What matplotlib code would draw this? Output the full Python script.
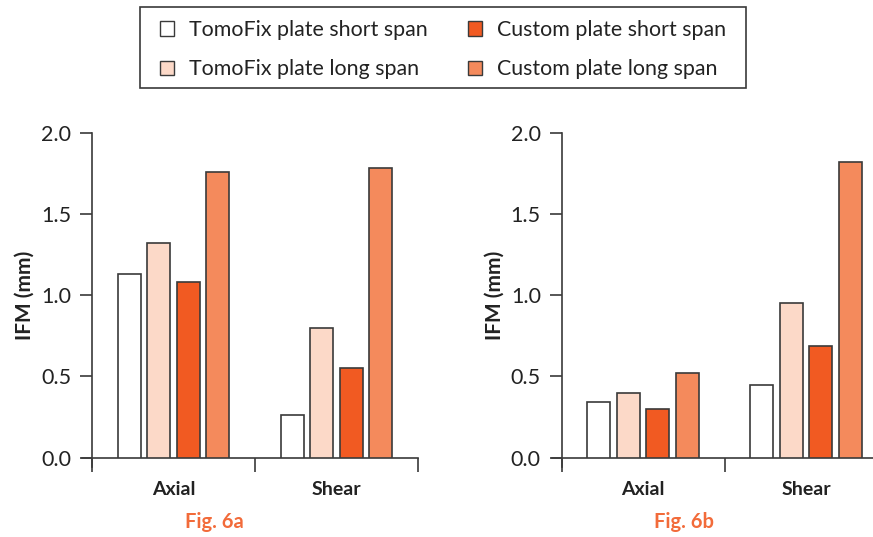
import numpy as np
import matplotlib.pyplot as plt
from matplotlib.patches import Patch, Rectangle

plt.rcParams['font.family'] = ['Lato', 'DejaVu Sans']

# Datos de IFM (mm) por tipo de carga
categorias = ["Axial", "Shear"]
series = ["TomoFix plate short span", "TomoFix plate long span",
          "Custom plate short span", "Custom plate long span"]
fig6a = [[1.13, 0.26], [1.32, 0.80], [1.08, 0.55], [1.76, 1.78]]
fig6b = [[0.34, 0.45], [0.40, 0.95], [0.30, 0.69], [0.52, 1.82]]
colores = ["#ffffff", "#fcd9c8", "#f15a22", "#f48a5c"]
titulos = ["Fig. 6a", "Fig. 6b"]

gris = "#3a3a3a"
texto = "#222222"
naranja = "#f26b3a"

fig = plt.figure(figsize=(8.73, 5.37), dpi=100)
ax_a = fig.add_axes([0.1054, 0.1477, 0.3734, 0.6052])
ax_b = fig.add_axes([0.6434, 0.1477, 0.3734, 0.6052])

paso = 0.181
ancho = 0.141
x = np.arange(len(categorias)) + 0.5

for ax, datos, titulo in zip([ax_a, ax_b], [fig6a, fig6b], titulos):
    for i, (valores, c) in enumerate(zip(datos, colores)):
        ax.bar(x + (i - 1.5) * paso, valores, width=ancho, color=c,
               edgecolor=gris, linewidth=1.2, zorder=3)
    ax.set_xlim(0, 2)
    ax.set_ylim(0, 2)
    ax.set_yticks([0, 0.5, 1.0, 1.5, 2.0])
    ax.set_yticklabels(["0.0", "0.5", "1.0", "1.5", "2.0"])
    ax.set_xticks(x)
    ax.set_xticklabels(categorias, fontweight='bold', fontsize=14)
    ax.set_xticks([0, 1, 2], minor=True)
    ax.tick_params(axis='x', which='major', length=0, pad=17, colors=texto)
    ax.tick_params(axis='x', which='minor', length=10, width=1.2, direction='out', color=gris)
    ax.tick_params(axis='y', length=9, width=1.2, pad=6, labelsize=15.5,
                   color=gris, labelcolor=texto)
    for s in ['top', 'right']:
        ax.spines[s].set_visible(False)
    for s in ['left', 'bottom']:
        ax.spines[s].set_color(gris)
        ax.spines[s].set_linewidth(1.2)
    ax.spines['left'].set_bounds(-0.06, 2)
    ax.spines['bottom'].set_bounds(-0.06, 2)
    ax.set_ylabel("IFM (mm)", fontweight='bold', fontsize=15, color=texto)
    ax.yaxis.set_label_coords(-0.176, 0.5)
    ax.text(0.375, -0.198, titulo, transform=ax.transAxes, ha='center', va='center',
            fontweight='bold', fontsize=14.5, color=naranja)

# leyenda sin marco; el recuadro se dibuja aparte
handles = [Patch(facecolor=c, edgecolor=gris, linewidth=1.0) for c in colores]
fig.legend(handles, series, loc='upper center', bbox_to_anchor=(0.5075, 1 - 20 / 537),
           ncol=2, fontsize=15.4, frameon=False, borderpad=0, borderaxespad=0,
           handlelength=0.65, handleheight=0.65, handletextpad=0.7,
           columnspacing=1.9, labelspacing=0.9, labelcolor=texto)
fig.patches.append(Rectangle((140 / 873, 1 - 88 / 537), 606 / 873, 81 / 537,
                             transform=fig.transFigure, fill=False,
                             edgecolor=gris, linewidth=1.2))

fig.savefig("out.png", dpi=100)
